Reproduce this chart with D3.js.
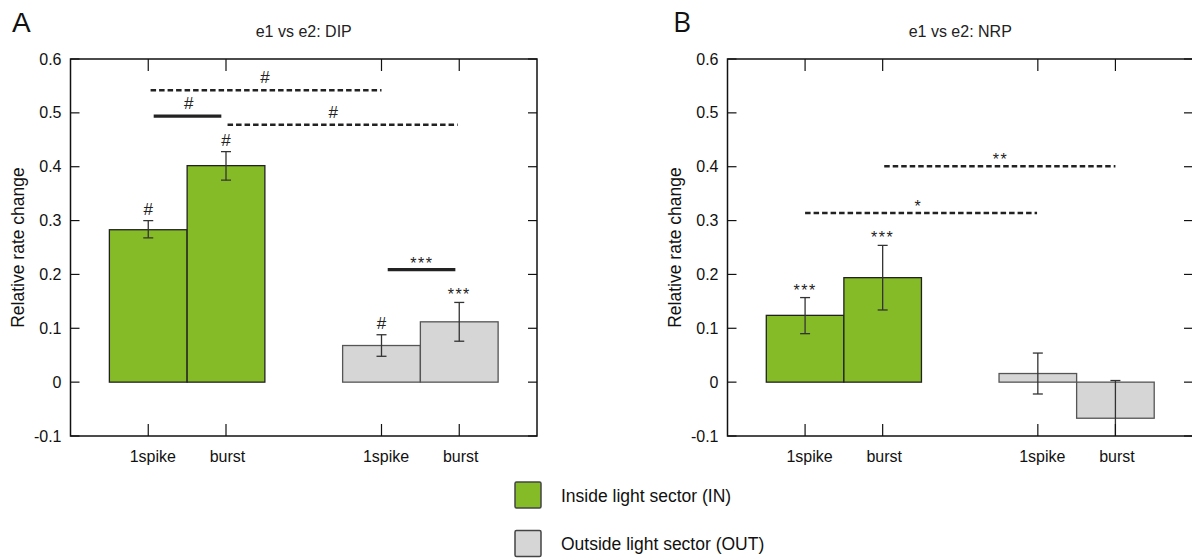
<!DOCTYPE html>
<html>
<head>
<meta charset="utf-8">
<script src="https://cdn.jsdelivr.net/npm/d3@7"></script>
<style>
  html, body { margin: 0; padding: 0; background: #fff; }
  svg { display: block; }
</style>
</head>
<body>
<svg id="chart" width="1192" height="560"></svg>
<script>
// ---------------- data ----------------
const categories = ["1spike", "burst", "1spike", "burst"];
const xPositions = [1, 2, 4, 5];
const groups = ["IN", "IN", "OUT", "OUT"];
const yTicks = [-0.1, 0, 0.1, 0.2, 0.3, 0.4, 0.5, 0.6];
const yTickLabels = ["-0.1", "0", "0.1", "0.2", "0.3", "0.4", "0.5", "0.6"];

const dipValues = [0.283, 0.402, 0.068, 0.112];
const dipErrLow = [0.268, 0.375, 0.048, 0.076];
const dipErrHigh = [0.300, 0.428, 0.088, 0.148];
const dipBarMarks = ["#", "#", "#", "***"];

const nrpValues = [0.124, 0.194, 0.016, -0.067];
const nrpErrLow = [0.090, 0.134, -0.022, -0.137];
const nrpErrHigh = [0.157, 0.254, 0.054, 0.003];
const nrpBarMarks = ["***", "***", "", ""];

// significance brackets: [x1, x2, y, dashed, label, labelX]
const dipBrackets = [
  [1.03, 4.0, 0.542, true, "#", 2.5],
  [1.07, 1.94, 0.494, false, "#", 1.52],
  [2.02, 4.98, 0.478, true, "#", 3.38],
  [4.08, 4.95, 0.209, false, "***", 4.52]
];
const nrpBrackets = [
  [2.02, 5.0, 0.401, true, "**", 3.52],
  [1.0, 3.99, 0.314, true, "*", 2.46]
];

const legendLabels = ["Inside light sector (IN)", "Outside light sector (OUT)"];
const groupColors = { IN: "#86bb28", OUT: "#d6d6d6" };
const groupStroke = { IN: "#222", OUT: "#555" };

// ---------------- drawing ----------------
const svg = d3.select("#chart");
const sans = "'Liberation Sans', Arial, sans-serif";

function drawPanel(cfg) {
  const { left, right, top, bottom, values, lo, hi, marks, brackets, title, letter, letterFont, letterX, clipId } = cfg;
  const x = d3.scaleLinear().domain([0, 6]).range([left, right]);
  const y = d3.scaleLinear().domain([-0.1, 0.6]).range([bottom, top]);
  const unit = x(1) - x(0);
  const g = svg.append("g");

  g.append("defs").append("clipPath").attr("id", clipId)
    .append("rect").attr("x", left).attr("y", top).attr("width", right - left).attr("height", bottom - top);

  const data = categories.map((c, i) => ({ c, pos: xPositions[i], grp: groups[i], v: values[i], lo: lo[i], hi: hi[i], mark: marks[i] }));

  // bars
  g.append("g").attr("clip-path", `url(#${clipId})`).selectAll("rect").data(data).enter().append("rect")
    .attr("x", d => x(d.pos - 0.5))
    .attr("width", unit)
    .attr("y", d => y(Math.max(0, d.v)))
    .attr("height", d => Math.abs(y(d.v) - y(0)))
    .attr("fill", d => groupColors[d.grp])
    .attr("stroke", d => groupStroke[d.grp])
    .attr("stroke-width", 1.3);

  // error bars
  const eb = g.append("g").attr("clip-path", `url(#${clipId})`).attr("stroke", "#333").attr("stroke-width", 1.3);
  eb.selectAll("line.v").data(data).enter().append("line")
    .attr("x1", d => x(d.pos)).attr("x2", d => x(d.pos))
    .attr("y1", d => y(d.lo)).attr("y2", d => y(d.hi));
  eb.selectAll("line.t").data(data).enter().append("line")
    .attr("x1", d => x(d.pos) - 5).attr("x2", d => x(d.pos) + 5)
    .attr("y1", d => y(d.hi)).attr("y2", d => y(d.hi));
  eb.selectAll("line.b").data(data).enter().append("line")
    .attr("x1", d => x(d.pos) - 5).attr("x2", d => x(d.pos) + 5)
    .attr("y1", d => y(d.lo)).attr("y2", d => y(d.lo));

  // bar marks
  g.selectAll("text.mark").data(data.filter(d => d.mark)).enter().append("text")
    .attr("x", d => x(d.pos))
    .attr("y", d => y(d.hi) - (d.mark === "#" ? 6 : 2))
    .attr("text-anchor", "middle")
    .attr("font-family", sans)
    .attr("font-size", d => d.mark === "#" ? 17 : 16)
    .attr("letter-spacing", d => d.mark === "#" ? 0 : 1.5)
    .attr("fill", "#222")
    .text(d => d.mark);

  // brackets
  brackets.forEach(b => {
    const [x1, x2, yy, dashed, label, lx] = b;
    g.append("line")
      .attr("x1", x(x1)).attr("x2", x(x2)).attr("y1", y(yy)).attr("y2", y(yy))
      .attr("stroke", "#222")
      .attr("stroke-width", dashed ? 2.6 : 3.2)
      .attr("stroke-dasharray", dashed ? "5.5,3" : null);
    g.append("text")
      .attr("x", x(lx))
      .attr("y", y(yy) - (label === "#" ? 7 : 1))
      .attr("text-anchor", "middle")
      .attr("font-family", sans)
      .attr("font-size", label === "#" ? 17 : 16)
      .attr("letter-spacing", label === "#" ? 0 : 1.5)
      .attr("fill", "#222")
      .text(label);
  });

  // axes: left with labels, right/top/bottom inward ticks
  const yAxisL = d3.axisLeft(y).tickValues(yTicks).tickSize(0).tickPadding(9)
    .tickFormat((d, i) => yTickLabels[i]);
  const ga = g.append("g").attr("transform", `translate(${left},0)`).call(yAxisL);
  ga.select(".domain").remove();
  ga.selectAll("text").attr("font-family", sans).attr("font-size", 16).attr("fill", "#111");

  const tickG = g.append("g").attr("stroke", "#111").attr("stroke-width", 1.2);
  yTicks.forEach(t => {
    tickG.append("line").attr("x1", left).attr("x2", left + 9).attr("y1", y(t)).attr("y2", y(t));
    tickG.append("line").attr("x1", right - 9).attr("x2", right).attr("y1", y(t)).attr("y2", y(t));
  });
  xPositions.forEach(p => {
    tickG.append("line").attr("x1", x(p)).attr("x2", x(p)).attr("y1", top).attr("y2", top + 12);
    tickG.append("line").attr("x1", x(p)).attr("x2", x(p)).attr("y1", bottom - 12).attr("y2", bottom);
  });

  const xAxis = d3.axisBottom(x).tickValues(xPositions).tickSize(0).tickPadding(14.5)
    .tickFormat((d, i) => categories[i]);
  const gx = g.append("g").attr("transform", `translate(0,${bottom})`).call(xAxis);
  gx.select(".domain").remove();
  gx.selectAll("text").attr("font-family", sans).attr("font-size", 16).attr("fill", "#111")
    .attr("dx", (d, i) => categories[i] === "1spike" ? 4 : 1);

  // frame
  g.append("rect").attr("x", left).attr("y", top).attr("width", right - left).attr("height", bottom - top)
    .attr("fill", "none").attr("stroke", "#111").attr("stroke-width", 1.5);

  // title
  g.append("text").attr("x", (left + right) / 2).attr("y", 37).attr("text-anchor", "middle")
    .attr("font-family", sans).attr("font-size", 16).attr("fill", "#222").text(title);

  // y label
  g.append("text")
    .attr("transform", `translate(${left - 47},${(top + bottom) / 2}) rotate(-90)`)
    .attr("text-anchor", "middle")
    .attr("font-family", sans).attr("font-size", 17.5).attr("fill", "#111")
    .text("Relative rate change");

  // panel letter
  g.append("text").attr("x", letterX).attr("y", 32)
    .attr("font-family", letterFont).attr("font-size", 28).attr("fill", "#111").text(letter);
}

drawPanel({ left: 70.5, right: 537, top: 59, bottom: 436, values: dipValues, lo: dipErrLow, hi: dipErrHigh,
  marks: dipBarMarks, brackets: dipBrackets, title: "e1 vs e2: DIP", letter: "A", letterFont: sans, letterX: 12, clipId: "clipA" });
drawPanel({ left: 727.5, right: 1193, top: 59, bottom: 436, values: nrpValues, lo: nrpErrLow, hi: nrpErrHigh,
  marks: nrpBarMarks, brackets: nrpBrackets, title: "e1 vs e2: NRP", letter: "B", letterFont: "'Open Sans', sans-serif", letterX: 673, clipId: "clipB" });

// legend
const legend = svg.append("g");
legendLabels.forEach((lab, i) => {
  const grp = i === 0 ? "IN" : "OUT";
  const yy = 482 + i * 48.5;
  legend.append("rect").attr("x", 515).attr("y", yy).attr("width", 26).attr("height", 26).attr("rx", 1.5)
    .attr("fill", groupColors[grp]).attr("stroke", "#444").attr("stroke-width", 1.5);
  legend.append("text").attr("x", 561).attr("y", yy + 19.5).attr("font-family", sans).attr("font-size", 17.5)
    .attr("fill", "#111").text(lab);
});
</script>
</body>
</html>
